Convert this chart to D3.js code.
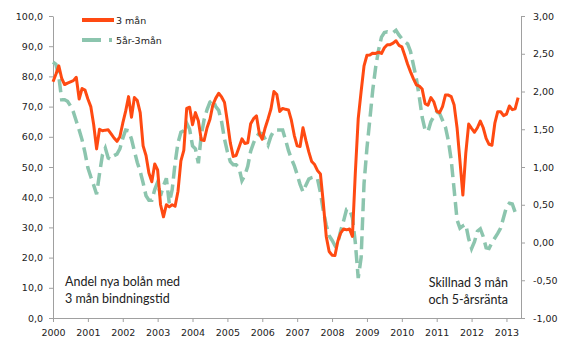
<!DOCTYPE html>
<html lang="sv">
<head>
<meta charset="UTF-8">
<title>Andel nya bolån med 3 mån bindningstid</title>
<script src="https://d3js.org/d3.v7.min.js"></script>
<style>
  body { margin: 0; background: #fff; }
  .axis path, .axis line { stroke: #a0a0a0; }
  .axis text { font-family: "DejaVu Sans", Verdana, sans-serif; font-size: 9.5px; fill: #222; }
  .note { font-family: Lato, "Open Sans", sans-serif; font-size: 12.5px; fill: #222; }
  .legend text { font-family: "DejaVu Sans", Verdana, sans-serif; font-size: 9.5px; fill: #222; }
</style>
</head>
<body>
<script>
// monthly series, jan 2000 - maj 2013
var startYear = 2000;
var years = [2000, 2001, 2002, 2003, 2004, 2005, 2006, 2007, 2008, 2009, 2010, 2011, 2012, 2013];

// andel nya bolån med 3 mån bindningstid (%), vänster axel
var tre_man = [
  78.2, 80.7, 83.5, 79.3, 77.3, 77.8, 78.2, 78.6, 79.7, 72.5, 76.0, 75.5,
  72.5, 70.0, 64.0, 56.0, 62.5, 62.0, 62.2, 62.3, 61.0, 59.6, 58.5, 60.0,
  64.5, 68.5, 73.3, 66.5, 73.0, 72.0, 68.0, 57.0, 53.8, 48.0, 45.1, 51.0,
  49.0, 37.5, 33.5, 37.5, 36.8, 37.5, 37.0, 42.0, 52.0, 55.5, 69.4, 69.8,
  64.0, 68.0, 65.3, 59.0, 58.8, 63.0, 65.8, 70.6, 72.8, 74.4, 73.2, 71.4,
  65.0, 58.0, 53.5, 53.8, 56.5, 59.3, 57.8, 58.0, 64.3, 66.0, 66.9, 61.0,
  59.2, 63.0, 66.0, 69.3, 75.0, 74.0, 68.4, 69.4, 69.1, 68.9, 65.5, 60.5,
  57.0, 56.8, 63.0, 58.8, 55.0, 51.8, 50.8, 48.8, 47.7, 38.0, 27.0, 22.0,
  20.8, 20.7, 25.5, 28.2, 29.5, 29.2, 29.5, 27.0, 48.0, 66.0, 75.0, 83.5,
  87.0, 87.1, 87.7, 87.6, 88.0, 87.6, 89.5, 90.5, 90.5, 91.0, 91.8, 90.3,
  89.8, 87.0, 84.0, 81.5, 79.2, 77.2, 76.8, 75.8, 71.0, 70.5, 73.0, 71.6,
  68.5, 68.0, 70.0, 73.8, 73.8, 73.3, 70.5, 63.0, 52.0, 40.7, 54.5, 64.2,
  62.8, 61.5, 63.0, 65.2, 63.0, 59.5, 57.5, 57.2, 64.5, 68.3, 68.3, 67.0,
  67.5, 70.2, 69.0, 69.3, 73.0
];

// skillnad 5-årsränta minus 3 mån (procentenheter), höger axel
var fem_ar_tre_man = [
  2.39, 2.36, 2.20, 1.89, 1.89, 1.87, 1.81, 1.73, 1.61, 1.49, 1.36, 1.19,
  0.99, 0.87, 0.76, 0.64, 0.91, 1.16, 1.25, 1.12, 1.10, 1.15, 1.17, 1.24,
  1.38, 1.49, 1.48, 1.37, 1.21, 1.06, 0.94, 0.79, 0.62, 0.56, 0.56, 0.70,
  0.80, 0.62, 0.75, 0.85, 0.52, 0.70, 1.05, 1.32, 1.46, 1.48, 1.58, 1.50,
  1.28, 1.24, 1.05, 1.42, 1.63, 1.76, 1.86, 1.89, 1.80, 1.75, 1.60, 1.37,
  1.20, 1.07, 1.03, 1.03, 0.99, 0.82, 0.89, 1.01, 1.21, 1.32, 1.40, 1.45,
  1.44, 1.37, 1.29, 1.41, 1.48, 1.49, 1.49, 1.49, 1.36, 1.22, 1.11, 1.02,
  0.90, 0.77, 0.67, 0.76, 0.84, 0.86, 0.87, 0.84, 0.66, 0.42, 0.23, 0.09,
  0.03, -0.04, 0.00, 0.16, 0.29, 0.44, 0.44, 0.33, 0.00, -0.47, -0.20, 0.78,
  1.25, 1.63, 2.02, 2.32, 2.55, 2.72, 2.78, 2.79, 2.78, 2.78, 2.81, 2.75,
  2.70, 2.66, 2.63, 2.53, 2.35, 2.17, 1.93, 1.66, 1.49, 1.47, 1.60, 1.67,
  1.73, 1.71, 1.62, 1.53, 1.35, 1.09, 0.70, 0.30, 0.19, 0.22, 0.24, 0.05,
  -0.08, 0.01, 0.15, 0.18, 0.08, -0.07, -0.08, 0.00, 0.06, 0.12, 0.19, 0.33,
  0.47, 0.52, 0.51, 0.40, 0.39
];

var leftTicks = [0, 10, 20, 30, 40, 50, 60, 70, 80, 90, 100];
var rightTicks = [-1, -0.5, 0, 0.5, 1, 1.5, 2, 2.5, 3];

var w = 580, h = 343;
var margin = { top: 16, right: 59, bottom: 25, left: 53 };
var width = w - margin.left - margin.right;
var height = h - margin.top - margin.bottom;

var sv = d3.formatLocale({ decimal: ",", thousands: " ", grouping: [3], currency: ["", " kr"], minus: "-" });

var x = d3.scaleLinear().domain([0, 161]).range([0, width]);
var yL = d3.scaleLinear().domain([0, 100]).range([height, 0]);
var yR = d3.scaleLinear().domain([-1, 3]).range([height, 0]);

var svg = d3.select("body").append("svg")
  .attr("width", w)
  .attr("height", h)
  .append("g")
  .attr("transform", "translate(" + margin.left + "," + margin.top + ")");

// axes
svg.append("g")
  .attr("class", "axis")
  .call(d3.axisLeft(yL).tickValues(leftTicks).tickSize(4).tickSizeOuter(0).tickPadding(6).tickFormat(sv.format(".1f")));

svg.append("g")
  .attr("class", "axis")
  .attr("transform", "translate(" + width + ",0)")
  .call(d3.axisRight(yR).tickValues(rightTicks).tickSize(4).tickSizeOuter(0).tickPadding(8).tickFormat(sv.format(".2f")));

svg.append("g")
  .attr("class", "axis")
  .attr("transform", "translate(0," + height + ")")
  .call(d3.axisBottom(x)
    .tickValues(years.map(function (d) { return (d - startYear) * 12; }))
    .tickSize(4).tickSizeOuter(0).tickPadding(7)
    .tickFormat(function (d) { return startYear + d / 12; }));

// lines
var lineL = d3.line()
  .x(function (d, i) { return x(i); })
  .y(function (d) { return yL(d); });
var lineR = d3.line()
  .x(function (d, i) { return x(i); })
  .y(function (d) { return yR(d); });

svg.append("path")
  .datum(fem_ar_tre_man)
  .attr("fill", "none")
  .attr("stroke", "#8cc5ae")
  .attr("stroke-width", 3.5)
  .attr("stroke-dasharray", "13,6")
  .attr("d", lineR);

svg.append("path")
  .datum(tre_man)
  .attr("fill", "none")
  .attr("stroke", "#ff4a12")
  .attr("stroke-width", 3)
  .attr("stroke-linejoin", "round")
  .attr("d", lineL);

// legend
var legend = d3.select("svg").append("g").attr("class", "legend");
legend.append("line")
  .attr("x1", 82).attr("x2", 114).attr("y1", 20).attr("y2", 20)
  .attr("stroke", "#ff4a12").attr("stroke-width", 4);
legend.append("text").attr("x", 116).attr("y", 23.5).text("3 mån");
legend.append("line")
  .attr("x1", 82).attr("x2", 114).attr("y1", 40).attr("y2", 40)
  .attr("stroke", "#8cc5ae").attr("stroke-width", 4)
  .attr("stroke-dasharray", "19,8,3,10");
legend.append("text").attr("x", 116).attr("y", 43.5).text("5år-3mån");

// notes
var root = d3.select("svg");
root.append("text").attr("class", "note").attr("x", 65).attr("y", 286).text("Andel nya bolån med");
root.append("text").attr("class", "note").attr("x", 65).attr("y", 302.5).text("3 mån bindningstid");
root.append("text").attr("class", "note").attr("x", 508).attr("y", 287).attr("text-anchor", "end").text("Skillnad 3 mån");
root.append("text").attr("class", "note").attr("x", 508).attr("y", 303.5).attr("text-anchor", "end").text("och 5-årsränta");
</script>
</body>
</html>
